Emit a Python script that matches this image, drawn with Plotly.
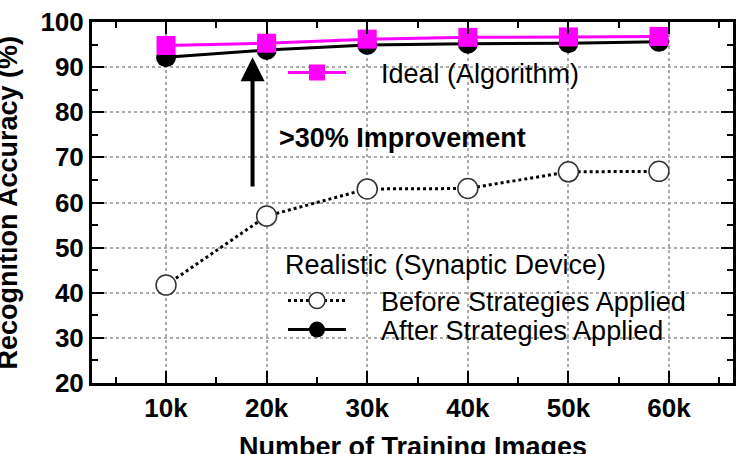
import plotly.graph_objects as go

# ---- data ----
training_k = [10, 20, 30, 40, 50, 59]          # number of training images (thousands)
ideal_acc = [94.8, 95.3, 96.2, 96.6, 96.7, 96.8]
after_acc = [92.2, 93.8, 94.9, 95.2, 95.3, 95.6]
before_acc = [41.7, 57.0, 63.0, 63.1, 66.8, 66.9]
x_tickvals = [10, 20, 30, 40, 50, 60]
x_ticktext = ["10k", "20k", "30k", "40k", "50k", "60k"]
y_tickvals = [20, 30, 40, 50, 60, 70, 80, 90, 100]

FONT = "Liberation Sans, Arial, sans-serif"
MAGENTA = "#FF00FF"
PAD = "\u00a0\u00a0\u00a0\u00a0"

fig = go.Figure()

fig.add_trace(go.Scatter(
    x=training_k, y=before_acc, mode="lines+markers",
    name=PAD + "Before Strategies Applied",
    line=dict(color="black", width=3, dash="dot"),
    marker=dict(symbol="circle", size=20, color="white",
                line=dict(color="#333", width=1.5)),
    legend="legend2",
))
fig.add_trace(go.Scatter(
    x=training_k, y=after_acc, mode="lines+markers",
    name=PAD + "After Strategies Applied",
    line=dict(color="black", width=3),
    marker=dict(symbol="circle", size=20, color="black"),
    legend="legend3",
))
fig.add_trace(go.Scatter(
    x=training_k, y=ideal_acc, mode="lines+markers",
    name=PAD + "Ideal (Algorithm)",
    line=dict(color=MAGENTA, width=3),
    marker=dict(symbol="square", size=19, color=MAGENTA),
    legend="legend",
))

axis_common = dict(
    showline=True, linecolor="black", linewidth=3, mirror="allticks",
    ticks="inside", ticklen=12, tickwidth=1.5, tickcolor="black",
    showgrid=True, gridcolor="#aaaaaa", griddash="dot", gridwidth=1.5,
    zeroline=False,
    tickfont=dict(family=FONT, size=26, color="black", weight="bold"),
)

fig.update_xaxes(
    range=[2.64, 66.36], tickmode="array", tickvals=x_tickvals, ticktext=x_ticktext,
    minor=dict(tickmode="linear", tick0=0, dtick=5, ticks="inside", ticklen=6,
               tickwidth=1.5, tickcolor="black", showgrid=False),
    **axis_common,
)
fig.update_yaxes(
    range=[20, 100], tickmode="array", tickvals=y_tickvals,
    minor=dict(tickmode="linear", tick0=0, dtick=5, ticks="inside", ticklen=6,
               tickwidth=1.5, tickcolor="black", showgrid=False),
    **axis_common,
)

legend_common = dict(
    bgcolor="rgba(0,0,0,0)", borderwidth=0, itemwidth=58,
    font=dict(family=FONT, size=27, color="black"),
    xanchor="left", yanchor="middle", itemclick=False,
)

fig.update_layout(
    width=750, height=454,
    margin=dict(l=92, r=17, t=22, b=71),
    paper_bgcolor="white", plot_bgcolor="white",
    template="none",
    showlegend=True,
    legend=dict(x=(283 - 92) / 641, y=(383 - 73) / 361, **legend_common),
    legend2=dict(x=(283 - 92) / 641, y=(383 - 301) / 361, **legend_common),
    legend3=dict(x=(283 - 92) / 641, y=(383 - 330) / 361, **legend_common),
    annotations=[
        dict(x=18.6, y=92.2, ax=18.6, ay=63.2, xref="x", yref="y",
             axref="x", ayref="y", text="", showarrow=True,
             arrowhead=2, arrowwidth=4, arrowsize=1.2, arrowcolor="black",
             standoff=0),
        dict(x=21.0, y=74.3, xref="x", yref="y", xanchor="left", yanchor="middle",
             text=">30% Improvement", showarrow=False,
             font=dict(family=FONT, size=27, color="black", weight="bold")),
        dict(x=21.6, y=46.1, xref="x", yref="y", xanchor="left", yanchor="middle",
             text="Realistic (Synaptic Device)", showarrow=False,
             font=dict(family=FONT, size=27, color="black")),
        # axis titles
        dict(x=0.5, y=(383 - 447) / 361, xref="paper", yref="paper",
             xanchor="center", yanchor="middle", showarrow=False,
             text="Number of Training Images",
             font=dict(family=FONT, size=27, color="black", weight="bold")),
        dict(x=(7 - 92) / 641, y=0.5, xref="paper", yref="paper",
             xanchor="center", yanchor="middle", showarrow=False, textangle=-90,
             text="Recognition Accuracy (%)",
             font=dict(family=FONT, size=27, color="black", weight="bold")),
    ],
)

fig.write_html("out.html")
